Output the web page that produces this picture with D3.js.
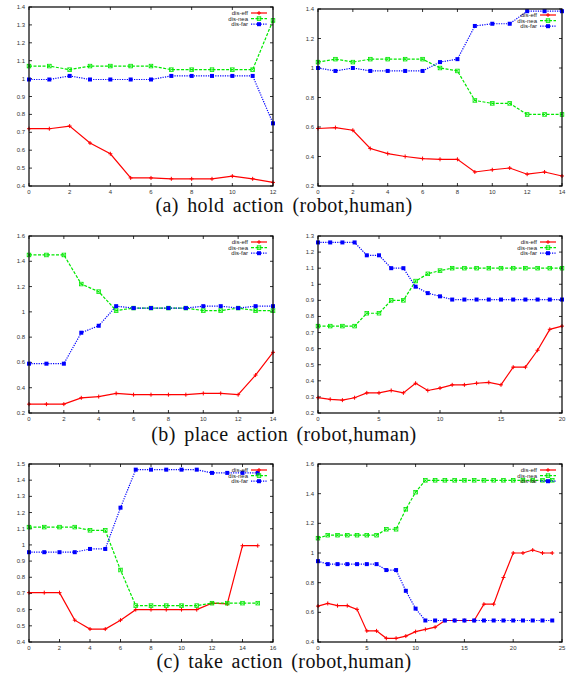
<!DOCTYPE html>
<html>
<head>
<meta charset="utf-8">
<script src="https://cdn.jsdelivr.net/npm/d3@7"></script>
<style>
  body { margin: 0; background: #fff; }
  .tick-label { font-family: "Liberation Sans", Arial, sans-serif; font-size: 6px; fill: #333; }
  .legend-label { font-family: "Liberation Sans", Arial, sans-serif; font-size: 6px; fill: #222; }
  .caption { font-family: "Liberation Serif", "Times New Roman", "DejaVu Serif", serif; font-size: 20px; fill: #111; word-spacing: 3px; letter-spacing: 0.4px; }
</style>
</head>
<body>
<svg width="571" height="677"></svg>
<script>
const svg = d3.select('svg');

// series names
var seriesNames = ["dis-eff", "dis-nea", "dis-far"];
var captions = ["(a) hold action (robot,human)", "(b) place action (robot,human)", "(c) take action (robot,human)"];

// (a) hold - robot
var holdRobotEff = [0.72, 0.72, 0.735, 0.64, 0.58, 0.445, 0.445, 0.44, 0.44, 0.44, 0.455, 0.44, 0.42];
var holdRobotNea = [1.07, 1.07, 1.05, 1.07, 1.07, 1.07, 1.07, 1.05, 1.05, 1.05, 1.05, 1.05, 1.325];
var holdRobotFar = [0.995, 0.995, 1.015, 0.995, 0.995, 0.995, 0.995, 1.015, 1.015, 1.015, 1.015, 1.015, 0.75];
// (a) hold - human
var holdHumanEff = [0.59, 0.596, 0.578, 0.454, 0.42, 0.40, 0.386, 0.381, 0.381, 0.295, 0.31, 0.322, 0.28, 0.295, 0.268];
var holdHumanNea = [1.04, 1.06, 1.04, 1.06, 1.06, 1.06, 1.06, 1.0, 0.98, 0.78, 0.76, 0.76, 0.685, 0.685, 0.685];
var holdHumanFar = [1.0, 0.98, 1.0, 0.98, 0.98, 0.98, 0.98, 1.04, 1.06, 1.285, 1.30, 1.30, 1.385, 1.385, 1.385];
// (b) place - robot
var placeRobotEff = [0.27, 0.27, 0.27, 0.32, 0.33, 0.355, 0.345, 0.345, 0.345, 0.345, 0.355, 0.355, 0.345, 0.50, 0.68];
var placeRobotNea = [1.45, 1.45, 1.45, 1.22, 1.16, 1.01, 1.03, 1.03, 1.03, 1.03, 1.01, 1.01, 1.03, 1.01, 1.01];
var placeRobotFar = [0.59, 0.59, 0.59, 0.835, 0.89, 1.045, 1.03, 1.03, 1.03, 1.03, 1.045, 1.045, 1.03, 1.045, 1.045];
// (b) place - human
var placeHumanEff = [0.295, 0.285, 0.28, 0.295, 0.325, 0.325, 0.34, 0.325, 0.385, 0.34, 0.355, 0.375, 0.375, 0.385, 0.39, 0.375, 0.485, 0.485, 0.59, 0.72, 0.74];
var placeHumanNea = [0.74, 0.74, 0.74, 0.74, 0.82, 0.82, 0.90, 0.90, 1.02, 1.065, 1.085, 1.10, 1.10, 1.10, 1.10, 1.10, 1.10, 1.10, 1.10, 1.10, 1.10];
var placeHumanFar = [1.26, 1.26, 1.26, 1.26, 1.18, 1.18, 1.10, 1.10, 0.985, 0.945, 0.925, 0.905, 0.905, 0.905, 0.905, 0.905, 0.905, 0.905, 0.905, 0.905, 0.905];
// (c) take - robot
var takeRobotEff = [0.705, 0.705, 0.705, 0.535, 0.48, 0.48, 0.535, 0.60, 0.60, 0.60, 0.60, 0.60, 0.64, 0.635, 0.995, 0.995];
var takeRobotNea = [1.11, 1.11, 1.11, 1.11, 1.09, 1.09, 0.845, 0.625, 0.625, 0.625, 0.625, 0.625, 0.64, 0.64, 0.64, 0.64];
var takeRobotFar = [0.955, 0.955, 0.955, 0.955, 0.975, 0.975, 1.23, 1.465, 1.465, 1.465, 1.465, 1.465, 1.445, 1.445, 1.445, 1.445];
// (c) take - human
var takeHumanEff = [0.642, 0.66, 0.645, 0.645, 0.62, 0.475, 0.475, 0.425, 0.425, 0.44, 0.47, 0.485, 0.50, 0.545, 0.545, 0.545, 0.545, 0.655, 0.655, 0.835, 1.0, 1.0, 1.02, 1.0, 1.0];
var takeHumanNea = [1.10, 1.12, 1.12, 1.12, 1.12, 1.12, 1.12, 1.16, 1.16, 1.295, 1.41, 1.49, 1.49, 1.49, 1.49, 1.49, 1.49, 1.49, 1.49, 1.49, 1.49, 1.49, 1.49, 1.49, 1.49];
var takeHumanFar = [0.945, 0.925, 0.925, 0.925, 0.925, 0.925, 0.925, 0.885, 0.885, 0.745, 0.625, 0.545, 0.545, 0.545, 0.545, 0.545, 0.545, 0.545, 0.545, 0.545, 0.545, 0.545, 0.545, 0.545, 0.545];

// axis setup per panel: x max, x tick step, y range, y ticks
var panelXMax = [12, 14, 14, 20, 16, 25];
var panelXStep = [2, 2, 2, 5, 2, 5];
var panelYMin = [0.4, 0.2, 0.2, 0.2, 0.4, 0.4];
var panelYMax = [1.4, 1.4, 1.6, 1.3, 1.5, 1.6];
var panelYStep = [0.1, 0.2, 0.2, 0.1, 0.1, 0.2];

var panelData = [
  [holdRobotEff, holdRobotNea, holdRobotFar],
  [holdHumanEff, holdHumanNea, holdHumanFar],
  [placeRobotEff, placeRobotNea, placeRobotFar],
  [placeHumanEff, placeHumanNea, placeHumanFar],
  [takeRobotEff, takeRobotNea, takeRobotFar],
  [takeHumanEff, takeHumanNea, takeHumanFar]
];

var colors = ["#ff0000", "#00e800", "#0000ff"];
var dashes = [null, "3,1.5", "1.2,1.2"];

// layout boxes
var colLeft = [29, 318];
var colRight = [273, 562];
var rowTop = [[7, 9], [236, 236], [464, 464]];
var rowBottom = [186, 413, 642];
var captionY = [212, 441, 668];

function fmt(v) {
  var s = d3.format(".1f")(v);
  return s.endsWith(".0") ? s.slice(0, -2) : s;
}

function drawMarker(g, type, x, y, c) {
  if (type === 0) {
    g.append('path').attr('d', `M${x-2},${y}H${x+2}M${x},${y-2}V${y+2}`)
      .attr('stroke', c).attr('stroke-width', 1);
  } else if (type === 1) {
    g.append('rect').attr('x', x - 1.8).attr('y', y - 1.8).attr('width', 3.6).attr('height', 3.6)
      .attr('fill', 'none').attr('stroke', c).attr('stroke-width', 0.8);
    g.append('path').attr('d', `M${x-1.8},${y-1.8}L${x+1.8},${y+1.8}M${x-1.8},${y+1.8}L${x+1.8},${y-1.8}`)
      .attr('stroke', c).attr('stroke-width', 0.7);
  } else {
    g.append('rect').attr('x', x - 2).attr('y', y - 2).attr('width', 4).attr('height', 4)
      .attr('fill', c);
  }
}

const render = (p) => {
  var row = Math.floor(p / 2), col = p % 2;
  var left = colLeft[col], right = colRight[col];
  var top = rowTop[row][col], bottom = rowBottom[row];

  const xscale = d3.scaleLinear().domain([0, panelXMax[p]]).range([left, right]);
  const yscale = d3.scaleLinear().domain([panelYMin[p], panelYMax[p]]).range([bottom, top]);

  const g = svg.append('g');

  var xt = d3.range(0, panelXMax[p] + 0.001, panelXStep[p]);
  var nY = Math.round((panelYMax[p] - panelYMin[p]) / panelYStep[p]);
  var yt = d3.range(0, nY + 1).map(i => +(panelYMin[p] + i * panelYStep[p]).toFixed(2));

  // inward ticks on all sides
  xt.forEach(t => {
    var x = xscale(t);
    g.append('line').attr('x1', x).attr('x2', x).attr('y1', bottom).attr('y2', bottom - 3).attr('stroke', '#000').attr('stroke-width', 0.8);
    g.append('line').attr('x1', x).attr('x2', x).attr('y1', top).attr('y2', top + 3).attr('stroke', '#000').attr('stroke-width', 0.8);
    g.append('text').attr('class', 'tick-label').attr('x', x).attr('y', bottom + 7.5)
      .attr('text-anchor', 'middle').text(t);
  });
  yt.forEach(t => {
    var y = yscale(t);
    g.append('line').attr('x1', left).attr('x2', left + 3).attr('y1', y).attr('y2', y).attr('stroke', '#000').attr('stroke-width', 0.8);
    g.append('line').attr('x1', right).attr('x2', right - 3).attr('y1', y).attr('y2', y).attr('stroke', '#000').attr('stroke-width', 0.8);
    g.append('text').attr('class', 'tick-label').attr('x', left - 4).attr('y', y + 2)
      .attr('text-anchor', 'end').text(fmt(t));
  });

  // series
  panelData[p].forEach((vals, s) => {
    const line = d3.line().x((d, i) => xscale(i)).y(d => yscale(d));
    g.append('path').datum(vals).attr('d', line)
      .attr('fill', 'none').attr('stroke', colors[s]).attr('stroke-width', 1.2)
      .attr('stroke-dasharray', dashes[s]);
    vals.forEach((v, i) => drawMarker(g, s, xscale(i), yscale(v), colors[s]));
  });

  // legend
  seriesNames.forEach((n, s) => {
    var ly = top + 6 + s * 5.6;
    g.append('text').attr('class', 'legend-label').attr('x', right - 25).attr('y', ly + 2)
      .attr('text-anchor', 'end').text(n);
    g.append('line').attr('x1', right - 22).attr('x2', right - 6).attr('y1', ly).attr('y2', ly)
      .attr('stroke', colors[s]).attr('stroke-width', 1.2).attr('stroke-dasharray', dashes[s]);
    drawMarker(g, s, right - 14, ly, colors[s]);
  });

  // frame
  g.append('rect').attr('x', left).attr('y', top).attr('width', right - left).attr('height', bottom - top)
    .attr('fill', 'none').attr('stroke', '#000').attr('stroke-width', 1.2);
};

for (var p = 0; p < 6; p++) render(p);

captions.forEach((c, i) => {
  svg.append('text').attr('class', 'caption').attr('x', 284).attr('y', captionY[i])
    .attr('text-anchor', 'middle').text(c);
});
</script>
</body>
</html>
